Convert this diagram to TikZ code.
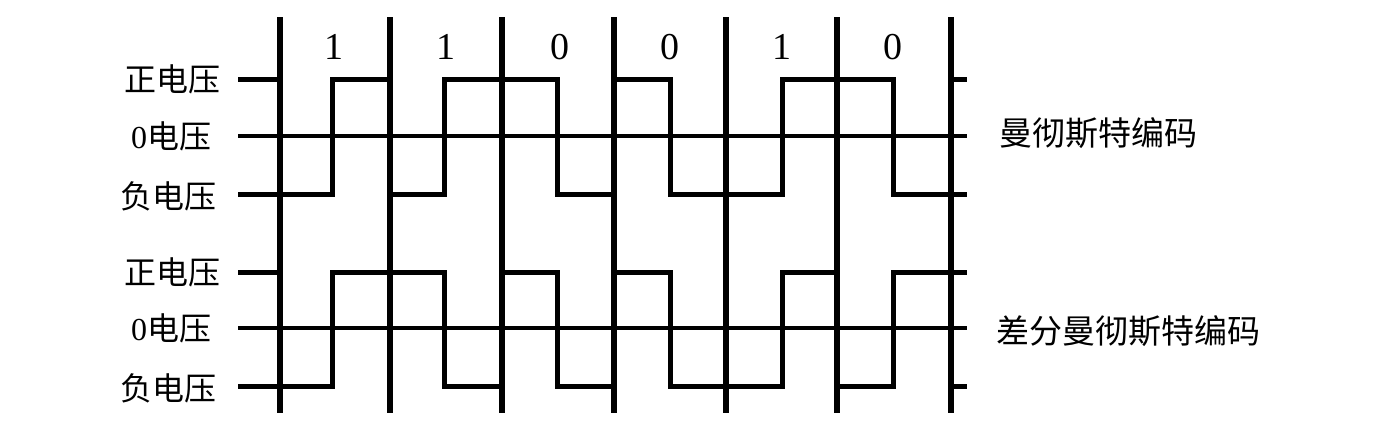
\documentclass[tikz,border=0pt]{standalone}
\usepackage{fontspec}
\setmainfont{Liberation Serif}
\newfontfamily\cjk{Noto Sans CJK SC}
\begin{document}
\begin{tikzpicture}[x=1pt,y=-1pt,
  bar/.style={line width=6pt},
  level/.style={line width=4pt},
  signal/.style={line width=5pt,line join=miter},
  lvl/.style={font=\fontsize{32}{34}\selectfont, anchor=center, inner sep=0pt},
  bit/.style={font=\fontsize{38}{40}\selectfont, anchor=center, inner sep=0pt},
  codename/.style={font=\fontsize{33}{35}\selectfont\cjk, anchor=west, inner sep=0pt}]
\useasboundingbox (0,0) rectangle (1399,440);
% level labels
\node[lvl] (p1) at (172,79) {\cjk 正电压};
\node[lvl] (z1) at (171,136) {0\cjk 电压};
\node[lvl] (n1) at (168,196) {\cjk 负电压};
\node[lvl] (p2) at (172,272) {\cjk 正电压};
\node[lvl] (z2) at (171,328) {0\cjk 电压};
\node[lvl] (n2) at (168,388) {\cjk 负电压};
% names
\node[codename] (m1) at (999,133) {曼彻斯特编码};
\node[codename] (m2) at (996,331) {差分曼彻斯特编码};
% bit labels
\node[bit] (b1) at (334,47) {1};
\node[bit] (b2) at (446,47) {1};
\node[bit] (b3) at (560,47) {0};
\node[bit] (b4) at (670,47) {0};
\node[bit] (b5) at (782,47) {1};
\node[bit] (b6) at (893,47) {0};
% zero lines and stubs
\foreach \z/\p/\n in {136/79/194, 328/272/386}{
  \draw[level] (238,\z) -- (967,\z);
  \draw[signal] (238,\p) -- (280,\p);
  \draw[signal] (238,\n) -- (280,\n);
  \draw[signal] (951,\p) -- (967,\p);
  \draw[signal] (951,\n) -- (967,\n);
}
% Manchester
\draw[signal] (280,194) -- (332,194) -- (332,79) -- (390,79) -- (390,194) -- (444,194) -- (444,79) -- (557,79) -- (557,194) -- (614,194) -- (614,79) -- (670,79) -- (670,194) -- (782,194) -- (782,79) -- (893,79) -- (893,194) -- (951,194);
% Differential Manchester
\draw[signal] (280,386) -- (332,386) -- (332,272) -- (444,272) -- (444,386) -- (502,386) -- (502,272) -- (557,272) -- (557,386) -- (614,386) -- (614,272) -- (670,272) -- (670,386) -- (782,386) -- (782,272) -- (837,272) -- (837,386) -- (893,386) -- (893,272) -- (951,272);
% bit boundaries
\foreach \x in {280,390,502,614,726,837,951}{
  \draw[bar] (\x,17) -- (\x,413);
}
\end{tikzpicture}
\end{document}
